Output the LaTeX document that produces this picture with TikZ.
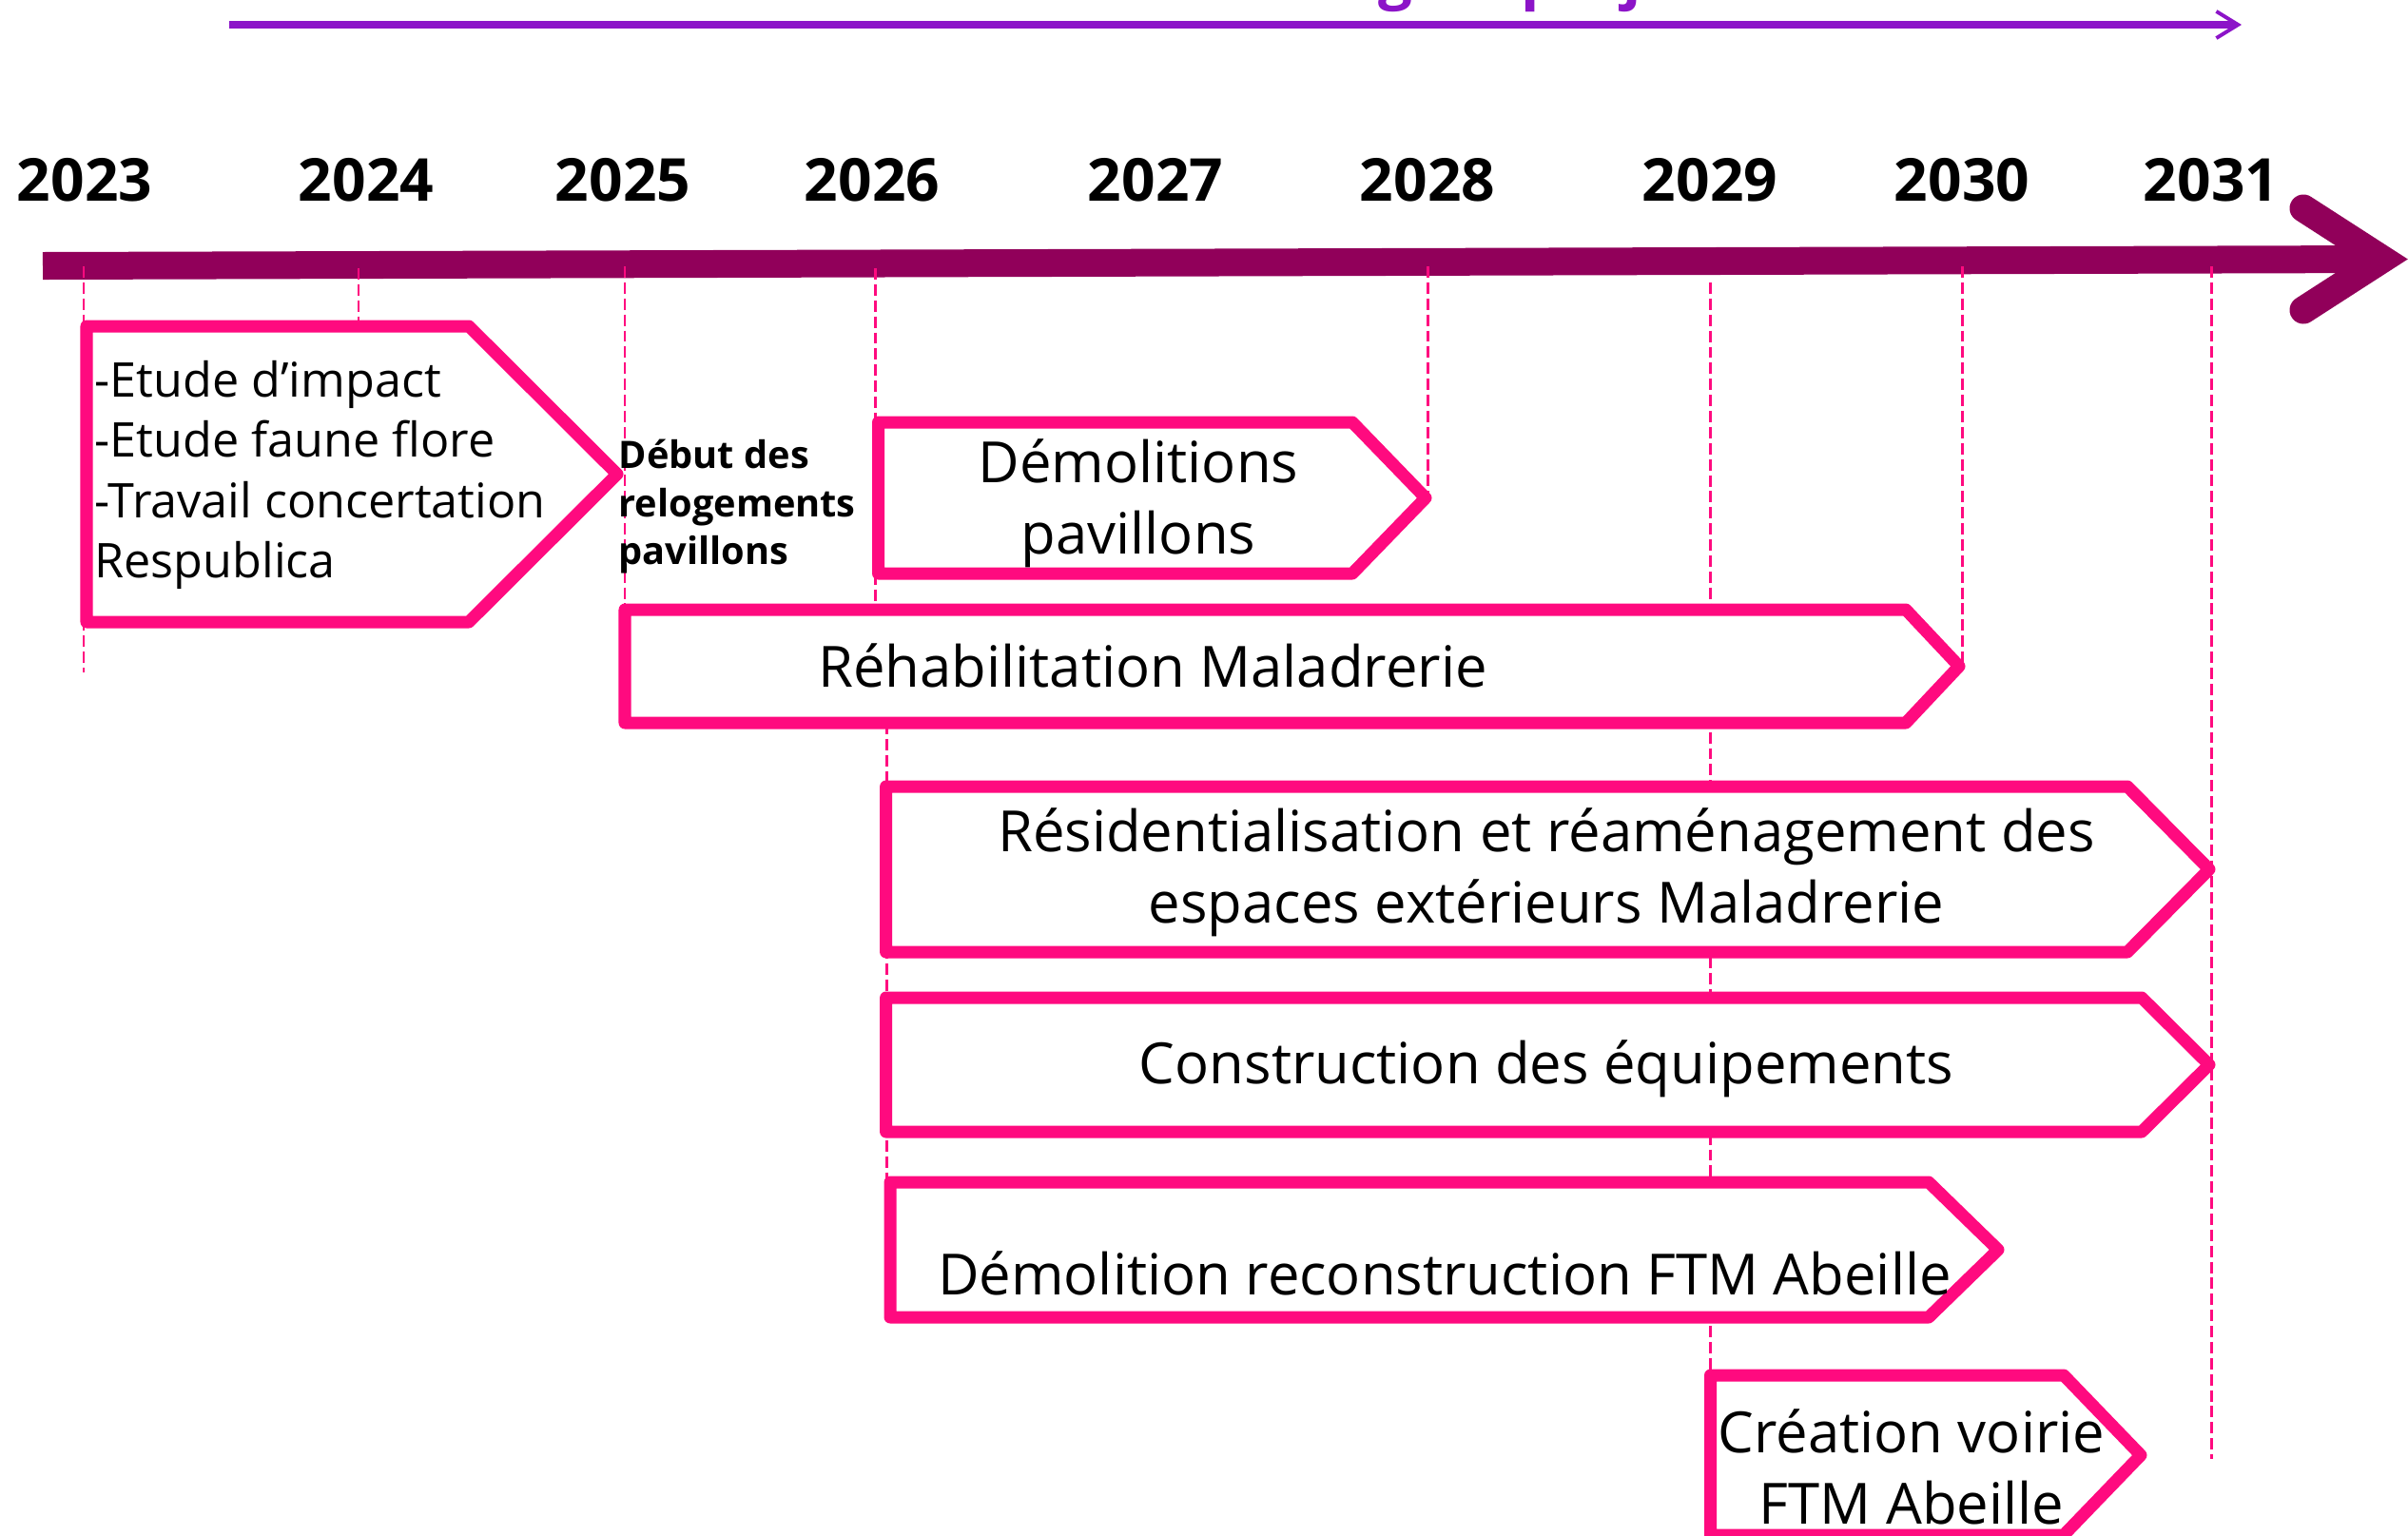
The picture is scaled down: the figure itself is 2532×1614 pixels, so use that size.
\documentclass[tikz,border=0pt]{standalone}
\usepackage{fontspec}
\setmainfont{Open Sans}
\usetikzlibrary{arrows.meta}
\definecolor{pinkc}{RGB}{255,10,127}
\definecolor{barc}{RGB}{145,0,90}
\definecolor{purplec}{RGB}{140,20,200}
\begin{document}
\begin{tikzpicture}[x=0.01cm,y=-0.01cm,
  guide/.style={draw=pinkc, line width=0.85pt, dash pattern=on 3.4pt off 1.4pt},
  taskbox/.style={draw=pinkc, fill=white, line width=3.7pt, line join=round},
  axisbar/.style={draw=barc, line width=8.25pt},
  yearlbl/.style={font=\fontsize{17.7pt}{21pt}\selectfont\bfseries, inner sep=0pt, anchor=base},
  tasklbl/.style={font=\fontsize{17pt}{21.6pt}\selectfont, inner sep=0pt, anchor=base},
  studylbl/.style={font=\fontsize{14.3pt}{18.1pt}\selectfont, inner sep=0pt, anchor=base west},
  notelbl/.style={font=\fontsize{11.3pt}{14.5pt}\selectfont\bfseries, inner sep=0pt, anchor=base west},
  titlelbl/.style={font=\fontsize{18pt}{22pt}\selectfont\bfseries, text=purplec, inner sep=0pt, anchor=base west}
]
\useasboundingbox (0,0) rectangle (2532,1614);
\fill[white] (0,0) rectangle (2532,1614);

% title (cut off at the top) and purple arrow
\node[titlelbl] (title) at (1599,-3) {\llap{Planning du }projet};
\draw[draw=purplec, line width=2pt, -{Straight Barb[length=6.5pt,width=8pt,line width=1.1pt]}] (241,26) -- (2357,26);

% main time axis
\draw[axisbar] (45,279.5) -- (2505,272.5);
\draw[axisbar, line cap=round, line join=miter] (2422,219) -- (2505,272.5) -- (2422,326);

% years
\node[yearlbl] (y2023) at (89,211) {2023};
\node[yearlbl] (y2024) at (385,211) {2024};
\node[yearlbl] (y2025) at (655,211) {2025};
\node[yearlbl] (y2026) at (917,211) {2026};
\node[yearlbl] (y2027) at (1215,211) {2027};
\node[yearlbl] (y2028) at (1501,211) {2028};
\node[yearlbl] (y2029) at (1798,211) {2029};
\node[yearlbl] (y2030) at (2063,211) {2030};
\node[yearlbl] (y2031) at (2325,211) {2031};

% dashed year guides
\draw[guide] (88,280) -- (88,707);
\draw[guide] (377,282) -- (377,400);
\draw[guide] (657,280) -- (657,641);
\draw[guide] (920,282) -- (920,641);
\draw[guide] (932,760) -- (932,1243);
\draw[guide] (1501,280) -- (1501,520);
\draw[guide] (1798,297) -- (1798,1446);
\draw[guide] (2063,280) -- (2063,700);
\draw[guide] (2325,280) -- (2325,1534);

% task boxes
\draw[taskbox] (91,343) -- (493,343) -- (649,498.5) -- (493,654) -- (91,654) -- cycle;
\draw[taskbox] (923.5,444) -- (1422,444) -- (1499,523.5) -- (1422,603) -- (923.5,603) -- cycle;
\draw[taskbox] (657,641) -- (2004,641) -- (2060,700.5) -- (2004,760) -- (657,760) -- cycle;
\draw[taskbox] (931.6,827) -- (2237,827) -- (2323,914) -- (2237,1001) -- (931.6,1001) -- cycle;
\draw[taskbox] (931.6,1049) -- (2252,1049) -- (2323,1119.5) -- (2252,1190) -- (931.6,1190) -- cycle;
\draw[taskbox] (936,1243) -- (2028,1243) -- (2101,1314) -- (2028,1385) -- (936,1385) -- cycle;
\draw[taskbox] (1798.5,1446) -- (2170,1446) -- (2251,1530) -- (2170,1614) -- (1798.5,1614) -- cycle;

% labels
\node[studylbl] (etudes) at (99,417) {\begin{tabular}[t]{@{}l@{}}-Etude d’impact\\-Etude faune flore\\-Travail concertation\\Respublica\end{tabular}};
\node[notelbl] (debut) at (650,492) {\begin{tabular}[t]{@{}l@{}}Début des\\relogements\\pavillons\end{tabular}};
\node[tasklbl] (demol) at (1197,507) {\begin{tabular}[t]{@{}c@{}}Démolitions\\pavillons\end{tabular}};
\node[tasklbl] (rehab) at (1212,722) {Réhabilitation Maladrerie};
\node[tasklbl] (resid) at (1626,895) {\begin{tabular}[t]{@{}c@{}}Résidentialisation et réaménagement des\\espaces extérieurs Maladrerie\end{tabular}};
\node[tasklbl] (constr) at (1626,1139) {Construction des équipements};
\node[tasklbl] (ftm) at (1519,1361) {Démolition reconstruction FTM Abeille};
\node[tasklbl] (voirie) at (2010,1527) {\begin{tabular}[t]{@{}c@{}}Création voirie\\FTM Abeille\end{tabular}};
\end{tikzpicture}
\end{document}
